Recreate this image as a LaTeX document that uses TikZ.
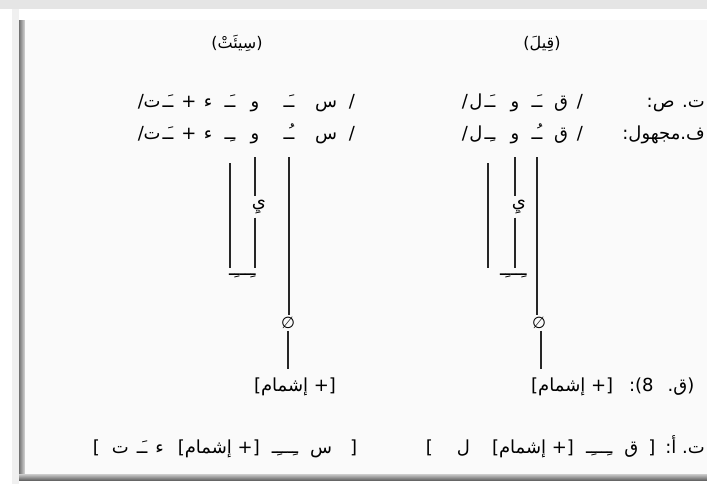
\documentclass[tikz,border=0pt]{standalone}
\usepackage{fontspec}
\TeXXeTstate=1
\setmainfont{DejaVu Sans}
\newfontfamily\arabicfont[Script=Arabic]{DejaVu Sans}
\begin{document}
\begin{tikzpicture}[x=1pt,y=-1pt,
  ar/.style={font=\arabicfont\fontsize{18}{20}\selectfont, inner sep=0pt, anchor=base},
  arc/.style={font=\arabicfont\fontsize{18}{20}\selectfont, inner sep=0pt},
  conn/.style={line width=1.2pt, black!85}]
\useasboundingbox (0,0) rectangle (707,488);
% frame
\fill[white] (0,0) rectangle (707,488);
\fill[black!10] (0,0) rectangle (707,9);
\fill[black!6] (12,9) rectangle (19,484);
\shade[left color=black!55, right color=black!15] (19,20) rectangle (25,478);
\shade[top color=black!20, bottom color=black!60] (19,474) rectangle (707,480);
\fill[black!2] (25,20) rectangle (707,474);
% titles
\node[ar, font=\arabicfont\fontsize{16}{18}\selectfont] (tS) at (237,48) {\beginR(سِيئَتْ)\endR};
\node[ar, font=\arabicfont\fontsize{16}{18}\selectfont] (tQ) at (542,48) {\beginR(قِيلَ)\endR};
% row 1 left
\node[ar] (L1a) at (352,107) {/};
\node[ar] (L1b) at (326,107) {\beginR س\endR};
\node[ar] (L1c) at (289,107) {\beginR ـَـ\endR};
\node[ar] (L1d) at (255,107) {\beginR و\endR};
\node[ar] (L1e) at (230,107) {\beginR ـَـ\endR};
\node[ar] (L1f) at (208,107) {\beginR ء\endR};
\node[ar] (L1g) at (189,107) {+};
\node[ar] (L1h) at (168,107) {\beginR ـَـ\endR};
\node[ar] (L1i) at (152,107) {\beginR ت\endR};
\node[ar] (L1j) at (141,107) {/};
% row 2 left
\node[ar] (L2a) at (352,139) {/};
\node[ar] (L2b) at (326,139) {\beginR س\endR};
\node[ar] (L2c) at (289,139) {\beginR ـُـ\endR};
\node[ar] (L2d) at (255,139) {\beginR و\endR};
\node[ar] (L2e) at (230,139) {\beginR ـِـ\endR};
\node[ar] (L2f) at (208,139) {\beginR ء\endR};
\node[ar] (L2g) at (189,139) {+};
\node[ar] (L2h) at (168,139) {\beginR ـَـ\endR};
\node[ar] (L2i) at (152,139) {\beginR ت\endR};
\node[ar] (L2j) at (141,139) {/};
% row 1 right
\node[ar, anchor=base east] (R1L) at (705,107) {\beginR ت. ص:\endR};
\node[ar] (R1a) at (580,107) {/};
\node[ar] (R1b) at (561,107) {\beginR ق\endR};
\node[ar] (R1c) at (537,107) {\beginR ـَـ\endR};
\node[ar] (R1d) at (515,107) {\beginR و\endR};
\node[ar] (R1e) at (490,107) {\beginR ـَـ\endR};
\node[ar] (R1f) at (476,107) {\beginR ل\endR};
\node[ar] (R1g) at (465,107) {/};
% row 2 right
\node[ar, anchor=base east] (R2L) at (705,139) {\beginR ف.مجهول:\endR};
\node[ar] (R2a) at (580,139) {/};
\node[ar] (R2b) at (561,139) {\beginR ق\endR};
\node[ar] (R2c) at (537,139) {\beginR ـُـ\endR};
\node[ar] (R2d) at (515,139) {\beginR و\endR};
\node[ar] (R2e) at (490,139) {\beginR ـِـ\endR};
\node[ar] (R2f) at (476,139) {\beginR ل\endR};
\node[ar] (R2g) at (465,139) {/};
% left derivation
\coordinate (LA) at (289,157);
\coordinate (LB) at (255,157);
\coordinate (LC) at (230,163);
\node[arc, inner sep=3pt] (yL) at (259,207) {\beginR يِ\endR};
\node[arc, anchor=west] (kL) at (229,276) {\beginR ـِـــِـ\endR};
\node[font=\fontsize{16}{18}\selectfont\itshape, inner sep=2pt] (phiL) at (288,323) {∅};
\node[ar] (ishL) at (295,391) {\beginR[+ إشمام]\endR};
\draw[conn] (LA) -- (LA |- phiL.north);
\draw[conn, shorten >=8pt] (phiL.south) -- (phiL.south |- ishL.north);
\draw[conn] (LB) -- (LB |- yL.north);
\draw[conn, shorten >=6pt] (LB |- yL.south) -- (LB |- kL.north);
\draw[conn, shorten >=6pt] (LC) -- (LC |- kL.north);
% right derivation
\coordinate (RA) at (537,157);
\coordinate (RB) at (515,157);
\coordinate (RC) at (488,163);
\node[arc, inner sep=3pt] (yR) at (519,207) {\beginR يِ\endR};
\node[arc, anchor=west] (kR) at (500,276) {\beginR ـِـــِـ\endR};
\node[font=\fontsize{16}{18}\selectfont\itshape, inner sep=2pt] (phiR) at (539,323) {∅};
\node[ar, anchor=base west] (ishR) at (531,391) {\beginR(ق.\hspace{14pt}8):\hspace{16pt}[+ إشمام]\endR};
\draw[conn] (RA) -- (RA |- phiR.north);
\draw[conn, shorten >=8pt] (phiR.south) ++(2,0) coordinate (phiRs) -- (phiRs |- ishR.north);
\draw[conn] (RB) -- (RB |- yR.north);
\draw[conn, shorten >=6pt] (RB |- yR.south) -- (RB |- kR.north);
\draw[conn, shorten >=6pt] (RC) -- (RC |- kR.north);
% bottom rows
\node[ar] (bL) at (225,453) {\beginR[\hspace{18pt}س\hspace{12pt}ـِـــِـ\hspace{12pt}[+ إشمام]\hspace{14pt}ء\hspace{8pt}ـَـ\hspace{8pt}ت\hspace{12pt}]\endR};
\node[ar, anchor=base east] (bR) at (705,453) {\beginR ت.\ أ:\hspace{10pt}[\hspace{10pt}ق\hspace{12pt}ـِـــِـ\hspace{12pt}[+ إشمام]\hspace{22pt}ل\hspace{24pt}]\endR};
\end{tikzpicture}
\end{document}
